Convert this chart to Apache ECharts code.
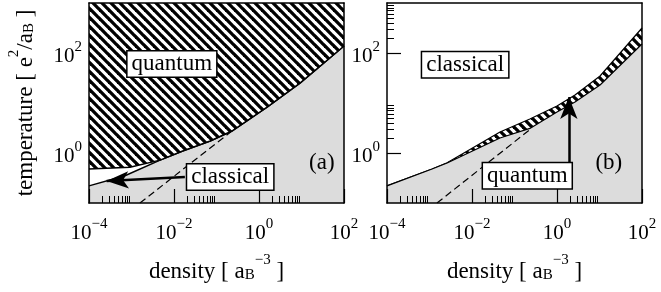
<!DOCTYPE html>
<html><head><meta charset="utf-8">
<script src="https://cdn.jsdelivr.net/npm/echarts@6/dist/echarts.min.js"></script>
<style>html,body{margin:0;padding:0;background:#fff}#c{width:661px;height:292px}</style>
</head><body><div id="c"></div>
<script>
// ---------- tick values ----------
const xMajorTicks = [1e-4, 1e-2, 1, 100];
const yMajorTicks = [1, 100];
const xMinorTicks = [2e-4,3e-4,4e-4,5e-4,6e-4,7e-4,8e-4,9e-4, 2e-2,3e-2,4e-2,5e-2,6e-2,7e-2,8e-2,9e-2, 2,3,4,5,6,7,8,9];
const yMinorTicks = [2,3,4,5,6,7,8,9, 200,300,400,500,600,700,800,900];

// ---------- panel (a) ----------
// lower edge of hatched "quantum" region
const aQuantumN = [1e-4, 9.2e-4, 4.7e-3, 1.6e-2, 7.1e-2, 0.23, 1.55, 9.2, 100];
const aQuantumT = [0.48, 0.52, 0.72, 1.1, 1.74, 2.75, 8.3, 25, 138];
// upper edge of grey region (solid line)
const aGreyN = [1e-4, 7e-4, 4.7e-3, 1.6e-2, 7.1e-2, 0.23, 1.55, 9.2, 100];
const aGreyT = [0.22, 0.35, 0.72, 1.1, 1.74, 2.75, 8.3, 25, 138];
// dashed line
const aDashN = [1.58e-3, 0.23];
const aDashT = [0.1, 2.75];

// ---------- panel (b) ----------
const bN      = [1e-4, 1.15e-3, 2.6e-3, 4.56e-2, 0.23, 1, 2.65, 10.3, 100];
const bUpperT = [0.22, 0.48, 0.64, 2.63, 4.8, 8.7, 14.5, 34.7, 316];
const bLowerT = [0.22, 0.48, 0.63, 2.0, 3.1, 6.6, 10.5, 22.9, 151];
const bDashN = [1.5e-3, 0.22];
const bDashT = [0.1, 2.85];

// ---------- annotations ----------
const aLabels = [ {name:'quantum', n:8.9e-3, t:60, box:true}, {name:'classical', n:0.21, t:0.33, box:true}, {name:'(a)', n:30, t:0.63, box:false} ];
const bLabels = [ {name:'classical', n:6.9e-3, t:58, box:true}, {name:'quantum', n:0.2, t:0.35, box:true}, {name:'(b)', n:16.6, t:0.63, box:false} ];
const aArrow = {from:[0.018, 0.33], to:[2.6e-4, 0.275]};
const bArrow = {from:[1.9, 0.42], to:[1.9, 13.2]};

const FONT = 'Liberation Serif';
const zip = (xs, ys) => xs.map((x, i) => [x, ys[i]]);

function hatch(){
  const p = 9, c = document.createElement('canvas');
  c.width = p; c.height = p;
  const g = c.getContext('2d');
  g.fillStyle = '#fff'; g.fillRect(0,0,p,p);
  g.strokeStyle = '#000'; g.lineWidth = 3.3;
  for (const o of [-p, 0, p]) { g.beginPath(); g.moveTo(o-2,-2); g.lineTo(o+p+2,p+2); g.stroke(); }
  return c;
}
const hatchPattern = {image: hatch(), repeat: 'repeat'};

const rich = {
  b:{fontSize:21, fontFamily:FONT, color:'#000', lineHeight:27, verticalAlign:'bottom'},
  s:{fontSize:15, fontFamily:FONT, color:'#000', lineHeight:15, verticalAlign:'top'},
  u:{fontSize:15, fontFamily:FONT, color:'#000', lineHeight:15, verticalAlign:'bottom'}
};
const richName = {
  b:{fontSize:23, fontFamily:FONT, color:'#000', lineHeight:30, verticalAlign:'bottom'},
  s:{fontSize:15, fontFamily:FONT, color:'#000', lineHeight:15, verticalAlign:'top'},
  u:{fontSize:15, fontFamily:FONT, color:'#000', lineHeight:15, verticalAlign:'bottom'}
};
function powLabel(v){ const e = Math.round(Math.log10(v)); return '{b|10}{s|' + (e < 0 ? '\u2212' + (-e) : e) + '}'; }

const grids = [
  {left:89, top:3, width:255, height:200, outerBoundsMode:'none'},
  {left:387, top:3, width:255, height:200, outerBoundsMode:'none'}
];
const blank = {axisTick:{show:false}, axisLabel:{show:false}, axisLine:{show:false}, splitLine:{show:false}};
const xAxes = [], yAxes = [];
grids.forEach((g, gi) => {
  const xb = {type:'log', logBase:10, min:1e-4, max:100, gridIndex:gi};
  xAxes.push(Object.assign({}, xb, blank, {position:'bottom', z:5,
    axisLine:{show:true, lineStyle:{color:'#000', width:1.5}},
    axisTick:{show:true, inside:true, length:14, customValues:xMajorTicks, lineStyle:{color:'#000', width:1.2}},
    axisLabel:{show:true, customValues:xMajorTicks, margin:14, formatter:powLabel, rich:rich},
    name:'{b|density [ a}{u|B}{s|\u22123}{b| ]}', nameLocation:'middle', nameGap:50,
    nameTextStyle:{rich:richName}}));
  xAxes.push(Object.assign({}, xb, blank, {position:'bottom', z:5,
    axisTick:{show:true, inside:true, length:7, customValues:xMinorTicks, lineStyle:{color:'#000', width:1}}}));
  xAxes.push(Object.assign({}, xb, blank, {position:'top', z:5,
    axisLine:{show:true, lineStyle:{color:'#000', width:1.5}}}));
  const yb = {type:'log', logBase:10, min:0.1, max:1000, gridIndex:gi};
  yAxes.push(Object.assign({}, yb, blank, {position:'left', z:1,
    axisTick:{show:true, inside:true, length:14, customValues:yMajorTicks, lineStyle:{color:'#000', width:1.2}},
    axisLabel:{show:true, customValues:yMajorTicks, margin:7, formatter:powLabel, rich:rich},
    name: gi === 0 ? '{b|temperature [ e}{s|2}{b|/a}{u|B}{b| ]}' : '', nameLocation:'middle', nameGap:52, nameRotate:90,
    nameTextStyle:{rich:richName}}));
  yAxes.push(Object.assign({}, yb, blank, {position:'left', z:1,
    axisTick:{show:true, inside:true, length:7, customValues:yMinorTicks, lineStyle:{color:'#000', width:1}}}));
  yAxes.push(Object.assign({}, yb, blank, {position:'left', z:5,
    axisLine:{show:true, lineStyle:{color:'#000', width:1.5}}}));
  yAxes.push(Object.assign({}, yb, blank, {position:'right', z:5,
    axisLine:{show:true, lineStyle:{color:'#000', width:1.5}}}));
});

function labelSeries(list, xi, yi){
  return {
    type:'scatter', xAxisIndex:xi, yAxisIndex:yi, symbol:'circle', symbolSize:0, itemStyle:{color:'#000', opacity:1}, z:8, silent:true,
    data: list.map(l => ({name:l.name, value:[l.n, l.t],
      label:{show:true, position:'inside', formatter:'{b}', fontFamily:FONT, fontSize:23, color:'#000', opacity:1,
        textBorderWidth:0, lineHeight:25,
        backgroundColor: l.box ? '#fff' : 'transparent', borderColor: l.box ? '#000' : 'transparent',
        borderWidth: l.box ? 1.5 : 0, padding:[0,4,0,4]}}))
  };
}
function arrowSeries(arr, xi, yi){
  return {
    type:'line', xAxisIndex:xi, yAxisIndex:yi, data:[], z:7, silent:true,
    markLine:{silent:true, symbol:['none','arrow'], symbolSize:[13,22], animation:false,
      label:{show:false}, lineStyle:{color:'#000', width:2.5, type:'solid'},
      emphasis:{disabled:true},
      data:[[{coord:arr.from}, {coord:arr.to}]]}
  };
}

const series = [
  // panel a
  {type:'line', xAxisIndex:0, yAxisIndex:0, data:zip(aGreyN, aGreyT), symbol:'none', z:2,
   lineStyle:{color:'#000', width:1.5}, areaStyle:{color:'#dcdcdc', opacity:1, origin:'start'}},
  {type:'line', xAxisIndex:0, yAxisIndex:0, data:zip(aQuantumN, aQuantumT), symbol:'none', z:3,
   lineStyle:{color:'#000', width:1.5}, areaStyle:{color:hatchPattern, opacity:1, origin:'end'}},
  {type:'line', xAxisIndex:0, yAxisIndex:0, data:zip(aDashN, aDashT), symbol:'none', z:4,
   lineStyle:{color:'#000', width:1.2, type:[7,4]}},
  labelSeries(aLabels, 0, 0),
  arrowSeries(aArrow, 0, 0),
  // panel b
  {type:'line', xAxisIndex:3, yAxisIndex:4, data:zip(bN, bUpperT), symbol:'none', z:2,
   lineStyle:{color:'#000', width:1.2}, areaStyle:{color:hatchPattern, opacity:1, origin:'start'}},
  {type:'line', xAxisIndex:3, yAxisIndex:4, data:zip(bN, bLowerT), symbol:'none', z:3,
   lineStyle:{color:'#000', width:1.2}, areaStyle:{color:'#dcdcdc', opacity:1, origin:'start'}},
  {type:'line', xAxisIndex:3, yAxisIndex:4, data:zip(bDashN, bDashT), symbol:'none', z:4,
   lineStyle:{color:'#000', width:1.2, type:[7,4]}},
  labelSeries(bLabels, 3, 4),
  arrowSeries(bArrow, 3, 4)
];

const chart = echarts.init(document.getElementById('c'), null, {renderer:'canvas'});
chart.setOption({animation:false, backgroundColor:'#fff', grid:grids, xAxis:xAxes, yAxis:yAxes, series:series});
</script></body></html>
